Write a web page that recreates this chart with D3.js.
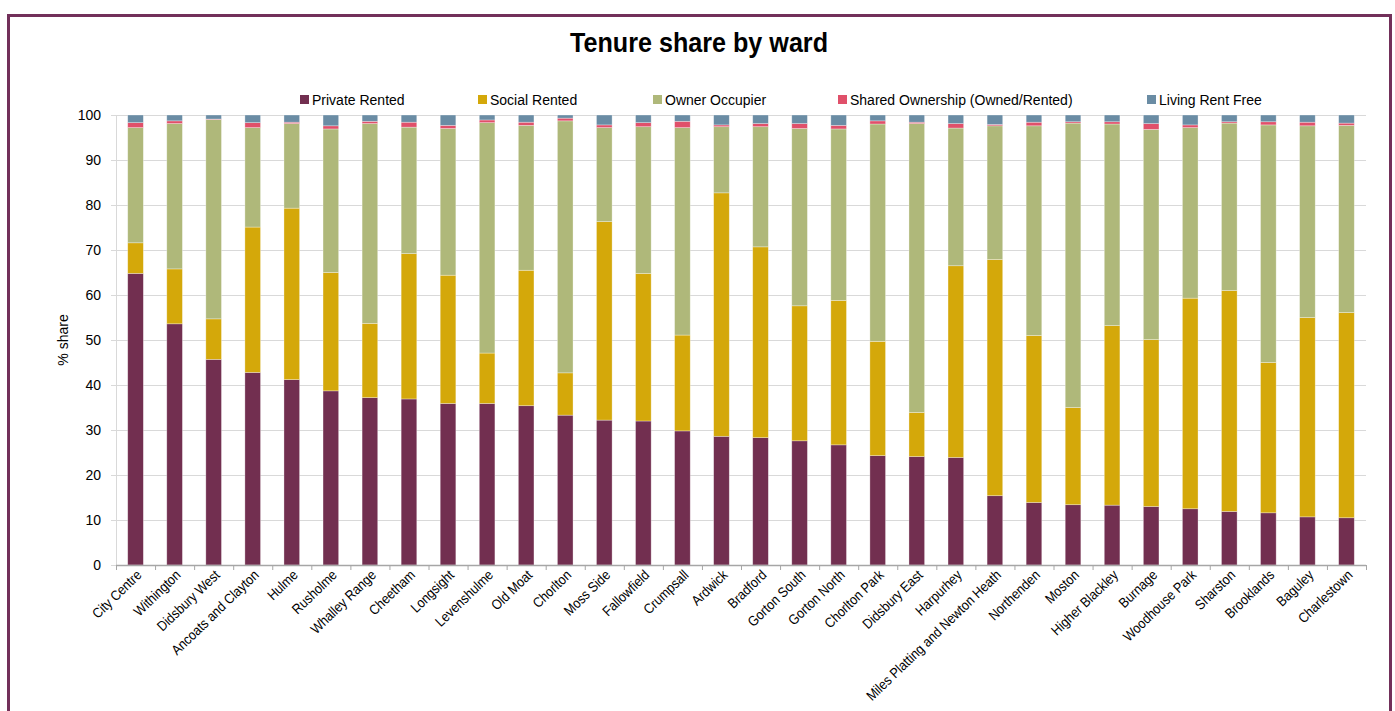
<!DOCTYPE html>
<html>
<head>
<meta charset="utf-8">
<script src="https://cdn.jsdelivr.net/npm/d3@7/dist/d3.min.js"></script>
<style>
  html, body { margin: 0; padding: 0; background: #fff; }
  svg { display: block; }
  text { font-family: "Liberation Sans", Arial, sans-serif; fill: #000; }
</style>
</head>
<body>
<svg id="chart" width="1395" height="711"></svg>
<script>
const wards = ["City Centre","Withington","Didsbury West","Ancoats and Clayton","Hulme","Rusholme","Whalley Range","Cheetham","Longsight","Levenshulme","Old Moat","Chorlton","Moss Side","Fallowfield","Crumpsall","Ardwick","Bradford","Gorton South","Gorton North","Chorlton Park","Didsbury East","Harpurhey","Miles Platting and Newton Heath","Northenden","Moston","Higher Blackley","Burnage","Woodhouse Park","Sharston","Brooklands","Baguley","Charlestown"];

const seriesNames = ["Private Rented","Social Rented","Owner Occupier","Shared Ownership (Owned/Rented)","Living Rent Free"];

const privateRented = [64.8,53.6,45.7,42.8,41.2,38.7,37.2,36.9,35.9,35.9,35.4,33.3,32.2,32.0,29.8,28.6,28.3,27.6,26.7,24.3,24.1,23.9,15.4,13.9,13.4,13.3,13.0,12.5,11.9,11.6,10.7,10.5];
const socialRented  = [6.8,12.2,9.0,32.3,38.1,26.3,16.5,32.3,28.5,11.2,30.1,9.4,44.1,32.8,21.3,54.1,42.4,30.0,32.1,25.4,9.8,42.6,52.5,37.1,21.6,39.9,37.1,46.8,49.1,33.4,44.3,45.6];
const ownerOccupier = [25.6,32.3,44.3,22.1,18.8,31.9,44.4,28.1,32.6,51.2,32.2,56.0,20.9,32.6,46.1,14.7,26.7,39.4,38.1,48.3,64.2,30.6,29.7,46.6,63.2,44.8,46.7,37.9,37.2,52.8,42.6,41.6];
const sharedOwnership = [1.1,0.6,0.1,1.1,0.3,0.7,0.5,1.1,0.7,0.6,0.7,0.6,0.6,0.9,1.4,0.4,0.7,1.1,0.8,0.7,0.3,1.0,0.3,0.8,0.3,0.5,1.3,0.6,0.3,0.7,0.8,0.5];
const livingRentFree = [1.7,1.3,0.9,1.7,1.6,2.4,1.4,1.6,2.3,1.1,1.6,0.7,2.2,1.7,1.4,2.2,1.9,1.9,2.3,1.3,1.6,1.9,2.1,1.6,1.5,1.5,1.9,2.2,1.5,1.5,1.6,1.8];

const yTicks = [0,10,20,30,40,50,60,70,80,90,100];
const colors = ["#722F50","#D4A80A","#AFB87A","#E0506A","#6A8CA4"];

const seriesArrays = [privateRented, socialRented, ownerOccupier, sharedOwnership, livingRentFree];
const table = wards.map((w, i) => {
  const row = { ward: w };
  seriesNames.forEach((s, k) => row[s] = seriesArrays[k][i]);
  return row;
});

const svg = d3.select("#chart");
const W = 1395, H = 711;
const m = { left: 116, right: 29, top: 115, bottom: 146 };
const plotW = W - m.left - m.right;
const plotH = H - m.top - m.bottom;

// frame
svg.append("rect").attr("x", 8.5).attr("y", 15.5).attr("width", 1382).attr("height", 720)
  .attr("fill", "none").attr("stroke", "#72305A").attr("stroke-width", 3);

// title
svg.append("text").attr("x", 699).attr("y", 52).attr("text-anchor", "middle")
  .attr("textLength", 258).attr("lengthAdjust", "spacingAndGlyphs")
  .style("font-size", "27px").style("font-weight", "bold").text("Tenure share by ward");

const x = d3.scaleBand().domain(wards).range([m.left, m.left + plotW]).paddingInner(0.6).paddingOuter(0.3);
const y = d3.scaleLinear().domain([0, 100]).range([m.top + plotH, m.top]);

// gridlines
svg.append("g").selectAll("line").data(yTicks).join("line")
  .attr("x1", m.left - 5).attr("x2", m.left + plotW)
  .attr("y1", d => y(d) + 0.5).attr("y2", d => y(d) + 0.5)
  .attr("stroke", "#d9d9d9").attr("stroke-width", 1);

// y axis line
svg.append("line").attr("x1", m.left + 0.5).attr("x2", m.left + 0.5)
  .attr("y1", m.top).attr("y2", m.top + plotH).attr("stroke", "#d9d9d9");

// y axis labels
const yAxis = d3.axisLeft(y).tickValues(yTicks).tickSize(0).tickPadding(15);
const gy = svg.append("g").attr("transform", `translate(${m.left},0)`).call(yAxis);
gy.select(".domain").remove();
gy.selectAll("text").style("font-size", "14px").style("font-family", "'Liberation Sans',Arial,sans-serif").attr("fill", "#000");

svg.append("text").attr("transform", `translate(68,${m.top + plotH / 2}) rotate(-90)`)
  .attr("text-anchor", "middle").style("font-size", "14px").text("% share");

// stacked bars
const stack = d3.stack().keys(seriesNames)(table);
svg.append("g").selectAll("g").data(stack).join("g")
  .attr("fill", (d, i) => colors[i])
  .selectAll("rect").data(d => d).join("rect")
  .attr("x", d => x(d.data.ward))
  .attr("width", x.bandwidth())
  .attr("y", d => y(d[1]))
  .attr("height", d => Math.max(0, y(d[0]) - y(d[1])))
  .attr("stroke", "rgba(255,255,255,0.45)").attr("stroke-width", 0.7);

// x axis
const xBoundaries = d3.range(wards.length + 1).map(i => m.left + i * x.step());
svg.append("line").attr("x1", m.left).attr("x2", m.left + plotW)
  .attr("y1", m.top + plotH + 0.5).attr("y2", m.top + plotH + 0.5).attr("stroke", "#a6a6a6").attr("stroke-width", 1.5);
svg.append("g").selectAll("line").data(xBoundaries).join("line")
  .attr("x1", d => d + 0.5).attr("x2", d => d + 0.5)
  .attr("y1", m.top + plotH).attr("y2", m.top + plotH + 5)
  .attr("stroke", "#a6a6a6");

svg.append("g").selectAll("text").data(wards).join("text")
  .attr("transform", d => `translate(${x(d) + x.bandwidth() / 2 + 7},${m.top + plotH + 11}) rotate(-44) scale(0.89,1)`)
  .attr("text-anchor", "end").style("font-size", "14px").text(d => d);

// legend
const legendX = [300, 478, 653, 838, 1147];
const lg = svg.append("g").selectAll("g").data(seriesNames).join("g")
  .attr("transform", (d, i) => `translate(${legendX[i]},100)`);
lg.append("rect").attr("x", 0).attr("y", -5).attr("width", 9).attr("height", 9).attr("fill", (d, i) => colors[i]);
lg.append("text").attr("x", 12).attr("y", 5).style("font-size", "14px").text(d => d);
</script>
</body>
</html>
